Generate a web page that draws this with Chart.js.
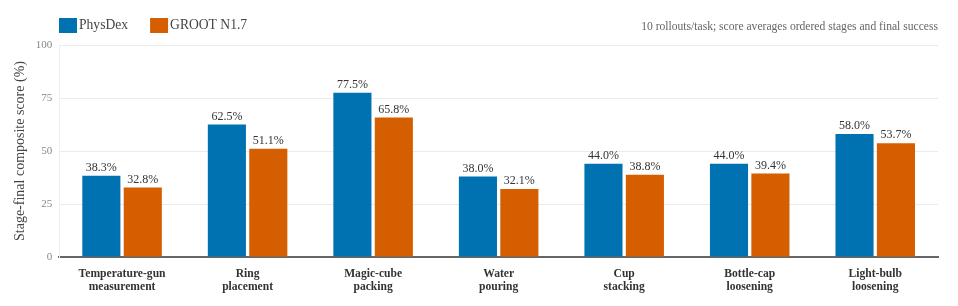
<!DOCTYPE html>
<html>
<head>
<meta charset="utf-8">
<script src="https://cdn.jsdelivr.net/npm/chart.js@4/dist/chart.umd.min.js"></script>
<style>
  html, body { margin: 0; padding: 0; background: #fff; }
  #wrap { width: 958px; height: 306px; }
</style>
</head>
<body>
<div id="wrap"><canvas id="chart"></canvas></div>
<script>
const tasks = [
  ["Temperature-gun", "measurement"],
  ["Ring", "placement"],
  ["Magic-cube", "packing"],
  ["Water", "pouring"],
  ["Cup", "stacking"],
  ["Bottle-cap", "loosening"],
  ["Light-bulb", "loosening"]
];
const physdex = [38.3, 62.5, 77.5, 38.0, 44.0, 44.0, 58.0];
const groot = [32.8, 51.1, 65.8, 32.1, 38.8, 39.4, 53.7];
const seriesNames = ["PhysDex", "GROOT N1.7"];
const yTicks = [0, 25, 50, 75, 100];
const note = "10 rollouts/task; score averages ordered stages and final success";

const FONT = "'Liberation Serif', 'Times New Roman', serif";
const BLUE = "#0072B2";
const ORANGE = "#D55E00";

// value labels above bars
const barLabels = {
  id: "barLabels",
  afterDatasetsDraw(chart) {
    const ctx = chart.ctx;
    ctx.save();
    ctx.font = "12px " + FONT;
    ctx.fillStyle = "#333";
    ctx.textAlign = "center";
    ctx.textBaseline = "bottom";
    chart.data.datasets.forEach((ds, i) => {
      chart.getDatasetMeta(i).data.forEach((bar, j) => {
        ctx.fillText(ds.data[j].toFixed(1) + "%", bar.x, bar.y - 2);
      });
    });
    ctx.restore();
  }
};

// legend on the left, note on the right
const header = {
  id: "header",
  afterDraw(chart) {
    const ctx = chart.ctx;
    ctx.save();
    ctx.textBaseline = "middle";
    ctx.font = "13.6px " + FONT;
    let x = 59;
    chart.data.datasets.forEach((ds) => {
      ctx.fillStyle = ds.backgroundColor;
      ctx.fillRect(x, 18, 18, 15);
      ctx.fillStyle = "#444";
      ctx.textAlign = "left";
      ctx.fillText(ds.label, x + 20, 25);
      x += 20 + ctx.measureText(ds.label).width + 22;
    });
    ctx.font = "11.6px " + FONT;
    ctx.fillStyle = "#666";
    ctx.textAlign = "right";
    ctx.fillText(note, chart.chartArea.right, 27);
    ctx.restore();
  }
};

new Chart(document.getElementById("chart"), {
  type: "bar",
  data: {
    labels: tasks,
    datasets: [
      { label: seriesNames[0], data: physdex, backgroundColor: BLUE },
      { label: seriesNames[1], data: groot, backgroundColor: ORANGE }
    ]
  },
  options: {
    responsive: true,
    maintainAspectRatio: false,
    animation: false,
    events: [],
    datasets: { bar: { categoryPercentage: 0.66, barPercentage: 0.92 } },
    layout: { padding: { top: 45, right: 20, left: 5, bottom: 11 } },
    plugins: { legend: { display: false }, tooltip: { enabled: false } },
    scales: {
      x: {
        grid: { display: false },
        border: { color: "#666", width: 2 },
        ticks: {
          color: "#333",
          padding: 2,
          maxRotation: 0,
          font: { family: FONT, size: 11.6, weight: "bold", lineHeight: 1.12 }
        }
      },
      y: {
        min: 0,
        max: 100,
        afterBuildTicks(axis) { axis.ticks = yTicks.map(v => ({ value: v })); },
        grid: { color: "#ebebeb", drawTicks: false },
        border: { color: "#efefef" },
        ticks: { color: "#888", padding: 7, font: { family: FONT, size: 11 } },
        title: {
          display: true,
          text: "Stage-final composite score (%)",
          color: "#444",
          padding: { top: 7, bottom: 0 },
          font: { family: FONT, size: 14 }
        }
      }
    }
  },
  plugins: [barLabels, header]
});
</script>
</body>
</html>
